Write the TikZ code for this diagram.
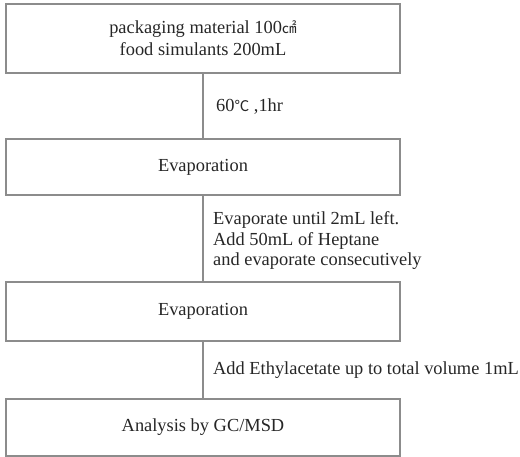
\documentclass[tikz,border=0pt]{standalone}
\usepackage{fontspec}
\setmainfont{Liberation Serif}
\newfontfamily\cjk[Scale=0.8]{Noto Sans CJK KR}
\tikzset{
  stepbox/.style={draw=black!45,line width=1.2pt,minimum width=394pt,text=black!85,align=center,font=\fontsize{18.4}{22}\selectfont},
  steplabel/.style={text=black!85,inner sep=0pt,align=left,font=\fontsize{18.4}{20.5}\selectfont},
  flowline/.style={draw=black!45,line width=1.2pt}
}
\begin{document}
\begin{tikzpicture}[x=1pt,y=-1pt]
  \useasboundingbox (0,0) rectangle (520,457);

  \node[stepbox,minimum height=69pt] (pack) at (203,38.5) {packaging material 100{\cjk ㎠}\\food simulants 200mL};
  \node[stepbox,minimum height=56pt] (evapa) at (203,167) {Evaporation};
  \node[stepbox,minimum height=59pt] (evapb) at (203,311.5) {Evaporation};
  \node[stepbox,minimum height=57pt] (gcms) at (203,427.5) {Analysis by GC/MSD};

  \draw[flowline] (pack.south) -- (evapa.north);
  \draw[flowline] (evapa.south) -- (evapb.north);
  \draw[flowline] (evapb.south) -- (gcms.north);

  \node[steplabel,anchor=base west] (heat) at (216,112) {60{\cjk ℃} ,1hr};
  \node[steplabel,anchor=west] (heptane) at (213,241) {Evaporate until 2mL left.\\Add 50mL of Heptane\\and evaporate consecutively};
  \node[steplabel,anchor=base west] (ethyl) at (213,374) {Add Ethylacetate up to total volume 1mL};
\end{tikzpicture}
\end{document}
